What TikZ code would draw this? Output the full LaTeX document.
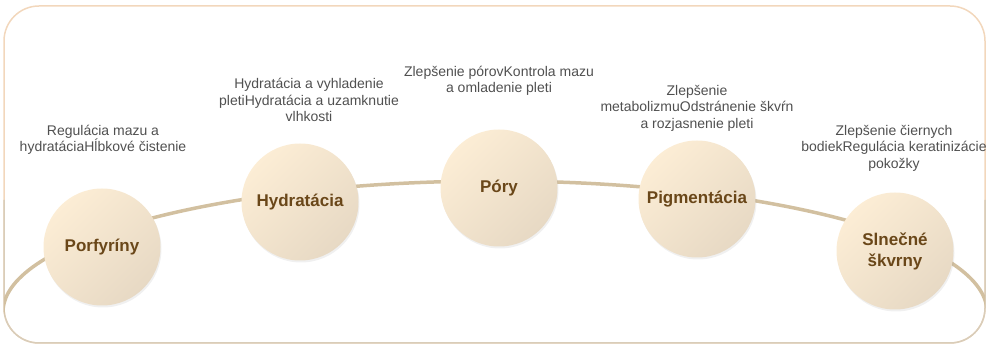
\documentclass[tikz,border=0pt]{standalone}
\usepackage{fontspec}
\setmainfont{Liberation Sans}
\usetikzlibrary{shadows}
\definecolor{framePeach}{HTML}{F2D7BC}
\definecolor{frameTan}{HTML}{D9CDB9}
\definecolor{curveTan}{HTML}{D2C0A0}
\definecolor{topicTop}{HTML}{FCEDD5}
\definecolor{topicBottom}{HTML}{E7D9C4}
\definecolor{topicText}{HTML}{6A4719}
\definecolor{noteText}{HTML}{505050}
\begin{document}
\begin{tikzpicture}[
            x=1pt, y=-1pt,
            topic/.style={circle, minimum size=117pt, inner sep=0pt, align=center,
                top color=topicTop, bottom color=topicBottom, shading angle=45,
                drop shadow={opacity=0.12, shadow xshift=1pt, shadow yshift=-2pt},
                text=topicText, font=\fontsize{17}{21}\selectfont\bfseries},
            note/.style={align=center, text=noteText, font=\fontsize{14}{16.5}\selectfont},
            arc/.style={line width=3.5pt, draw=curveTan}
        ]
        \useasboundingbox (0,0) rectangle (989,347);

        % Frame
        \draw[framePeach, line width=1.5pt, rounded corners=35pt] (4,6) rectangle (985,343);
        \draw[frameTan, line width=1.5pt, rounded corners=35pt] (4,200) -- (4,343) -- (985,343) -- (985,200);

        % Curve through the topics
        \begin{scope}
            \clip[rounded corners=35pt] (4,6) rectangle (985,343);
            \draw[arc] (495,312) ellipse (492 and 131);
        \end{scope}

        % Topics
        \node[topic] (porfyriny) at (102,247) {Porfyríny};
        \node[topic] (hydratacia) at (300,202) {Hydratácia};
        \node[topic] (pory) at (499,188) {Póry};
        \node[topic] (pigmentacia) at (697,199) {Pigmentácia};
        \node[topic] (skvrny) at (895,251) {Slnečné\\škvrny};

        % Notes above the topics
        \node[note] (porfyrinyNote) at (103,140) {Regulácia mazu a\\hydratáciaHĺbkové čistenie};
        \node[note] (hydrataciaNote) at (309,100) {Hydratácia a vyhladenie\\pletiHydratácia a uzamknutie\\vlhkosti};
        \node[note] (poryNote) at (499,81) {Zlepšenie pórovKontrola mazu\\a omladenie pleti};
        \node[note] (pigmentaciaNote) at (697,108) {Zlepšenie\\metabolizmuOdstránenie škvŕn\\a rozjasnenie pleti};
        \node[note] (skvrnyNote) at (894,148) {Zlepšenie čiernych\\bodiekRegulácia keratinizácie\\pokožky};

    \end{tikzpicture}
\end{document}
